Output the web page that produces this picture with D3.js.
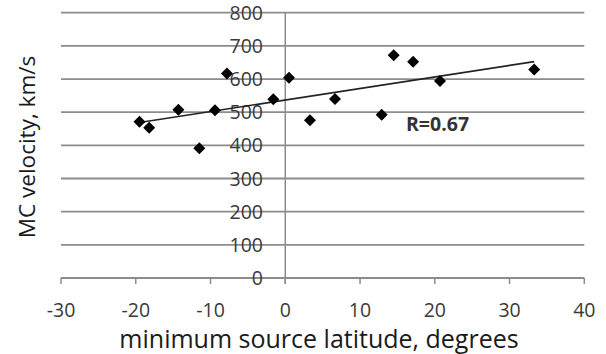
<!DOCTYPE html>
<html>
<head>
<meta charset="utf-8">
<script src="https://cdn.jsdelivr.net/npm/d3@7"></script>
<style>
  body { margin: 0; background: #fff; }
  text { font-family: "Open Sans", sans-serif; }
</style>
</head>
<body>
<div id="chart"></div>
<script>
(function(d3){

    // latitude (deg) of each event
    var latitude = [-19.5, -18.2, -14.3, -11.5, -9.4, -7.8, -1.6, 0.5, 3.3, 6.65, 12.9, 14.5, 17.1, 20.7, 33.3];
    // MC velocity (km/s)
    var velocity = [471, 453, 507, 391, 506, 617, 539, 604, 476, 540, 492, 672, 652, 594, 629];
    var xTicks = [-30, -20, -10, 0, 10, 20, 30, 40];
    var yTicks = [0, 100, 200, 300, 400, 500, 600, 700, 800];
    var rLabel = "R=0.67";

    var W = 606, H = 354;
    var x = d3.scaleLinear().domain([-30, 40]).range([61, 584.3]);
    var y = d3.scaleLinear().domain([0, 800]).range([278, 12.7]);

    var svg = d3.select("#chart").append("svg")
            .attr("width", W).attr("height", H);

    var gridColor = "#8c8c8c";

    // horizontal grid lines
    svg.append("g").selectAll("line").data(yTicks).enter().append("line")
            .attr("x1", x(-30)).attr("x2", x(40))
            .attr("y1", function(d){ return y(d); })
            .attr("y2", function(d){ return y(d); })
            .attr("stroke", gridColor).attr("stroke-width", 1.8);

    // vertical axis at x = 0
    svg.append("line")
            .attr("x1", x(0)).attr("x2", x(0))
            .attr("y1", y(800)).attr("y2", y(0) + 6)
            .attr("stroke", gridColor).attr("stroke-width", 1.5);

    // x ticks
    svg.append("g").selectAll("line").data(xTicks).enter().append("line")
            .attr("x1", function(d){ return x(d); })
            .attr("x2", function(d){ return x(d); })
            .attr("y1", y(0)).attr("y2", y(0) + 6)
            .attr("stroke", gridColor).attr("stroke-width", 1.5);

    svg.append("g").selectAll("text").data(xTicks).enter().append("text")
            .attr("x", function(d){ return x(d); })
            .attr("y", 317)
            .attr("text-anchor", "middle")
            .attr("font-size", 19.5)
            .attr("fill", "#3a3a3a")
            .text(function(d){ return d; });

    svg.append("g").selectAll("text").data(yTicks).enter().append("text")
            .attr("x", 263)
            .attr("y", function(d){ return y(d); })
            .attr("dy", "0.36em")
            .attr("text-anchor", "end")
            .attr("font-size", 19.5)
            .attr("fill", "#3a3a3a")
            .text(function(d){ return d; });

    // linear trend line over the data range
    var mx = d3.mean(latitude), my = d3.mean(velocity);
    var sxy = d3.sum(latitude, function(v, i){ return (v - mx) * (velocity[i] - my); });
    var sxx = d3.sum(latitude, function(v){ return (v - mx) * (v - mx); });
    var slope = sxy / sxx, icpt = my - slope * mx;
    var ext = d3.extent(latitude);
    svg.append("line")
            .attr("x1", x(ext[0])).attr("y1", y(icpt + slope * ext[0]))
            .attr("x2", x(ext[1])).attr("y2", y(icpt + slope * ext[1]))
            .attr("stroke", "#222").attr("stroke-width", 1.6);

    // points
    svg.append("g").selectAll("path").data(latitude).enter().append("path")
            .attr("d", d3.symbol(d3.symbolSquare, 72))
            .attr("transform", function(d, i){
                return "translate(" + x(d) + "," + y(velocity[i]) + ") rotate(45)";
            })
            .attr("fill", "#000");

    svg.append("text")
            .attr("x", 406).attr("y", 131)
            .attr("font-size", 19.5).attr("font-weight", "bold")
            .attr("fill", "#333")
            .text(rLabel);

    // axis titles
    svg.append("text")
            .attr("x", 319).attr("y", 348)
            .attr("text-anchor", "middle")
            .attr("font-size", 25)
            .attr("fill", "#1a1a1a")
            .text("minimum source latitude, degrees");

    svg.append("text")
            .attr("transform", "translate(35,147) rotate(-90)")
            .attr("text-anchor", "middle")
            .attr("font-size", 22.5)
            .attr("fill", "#1a1a1a")
            .text("MC velocity, km/s");

})(d3);
</script>
</body>
</html>
